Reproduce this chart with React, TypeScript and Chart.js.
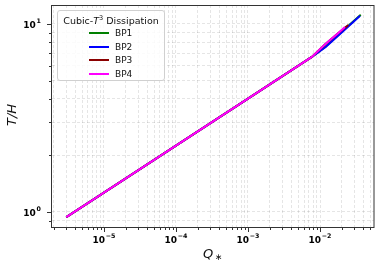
import React, { useEffect, useRef } from "react";
import { Chart, registerables } from "chart.js";
Chart.register(...registerables);

const seriesLabels = ["BP1", "BP2", "BP3", "BP4"];
const seriesColors = ["#008000", "#0000ff", "#8b0000", "#ff00ff"];

const bp1Q = [3.0e-6, 1e-5, 1e-4, 1e-3, 7.7e-3, 0.012, 0.02, 0.0368];
const bp1T = [0.94, 1.267, 2.253, 4.006, 6.68, 7.6, 9.1, 11.2];
const bp2Q = [3.0e-6, 1e-5, 1e-4, 1e-3, 7.7e-3, 0.012, 0.02, 0.036];
const bp2T = [0.94, 1.267, 2.253, 4.006, 6.68, 7.55, 9.0, 11.07];
const bp3Q = [3.0e-6, 1e-5, 1e-4, 1e-3, 7.7e-3, 0.012, 0.018, 0.0247];
const bp3T = [0.94, 1.267, 2.253, 4.006, 6.68, 7.85, 8.95, 9.88];
const bp4Q = [3.0e-6, 1e-5, 1e-4, 1e-3, 7.7e-3, 0.012, 0.018, 0.0222];
const bp4T = [0.94, 1.267, 2.253, 4.006, 6.68, 7.85, 8.95, 9.64];

const xMin = 1.9e-6;
const xMax = 0.0562;
const yMin = 0.832;
const yMax = 12.62;
const xDecades = [-6, -5, -4, -3, -2, -1];
const yDecades = [-1, 0, 1];

const FONT = "'DejaVu Sans', sans-serif";

function logTicks(decades: number[], min: number, max: number) {
  const out: { value: number }[] = [];
  decades.forEach((e) => {
    for (let m = 1; m <= 9; m++) {
      const v = m * Math.pow(10, e);
      if (v >= min * 0.9999 && v <= max * 1.0001) out.push({ value: v });
    }
  });
  return out;
}
function isMajor(v: number) {
  const l = Math.log10(v);
  return Math.abs(l - Math.round(l)) < 1e-6;
}
function expText(v: number) {
  const e = Math.round(Math.log10(v));
  return (e < 0 ? "\u2212" : "") + String(Math.abs(e));
}

const BASE_FONT = "bold 9px " + FONT;
const EXP_FONT = "bold 6.3px " + FONT;

function drawPow(ctx: CanvasRenderingContext2D, v: number, x: number, baseline: number, align: "center" | "right") {
  ctx.font = BASE_FONT;
  const w1 = ctx.measureText("10").width;
  const ex = expText(v);
  ctx.font = EXP_FONT;
  const w2 = ctx.measureText(ex).width + 0.8;
  const total = w1 + w2;
  const left = align === "center" ? x - total / 2 : x - total;
  ctx.textAlign = "left";
  ctx.textBaseline = "alphabetic";
  ctx.font = BASE_FONT;
  ctx.fillText("10", left, baseline);
  ctx.font = EXP_FONT;
  ctx.fillText(ex, left + w1 + 0.8, baseline - 4.3);
}

const framePlugin = {
  id: "frame",
  afterDraw(chart: any) {
    const { ctx, chartArea: a, scales } = chart;
    ctx.save();
    ctx.strokeStyle = "#333";
    ctx.fillStyle = "#000";
    ctx.lineWidth = 1;
    ctx.strokeRect(a.left - 0.5, a.top + 0.5, a.right - a.left + 0.5, a.bottom - a.top);
    const xs = scales.x;
    xs.ticks.forEach((t: any) => {
      const raw = xs.getPixelForValue(t.value);
      const p = Math.round(raw) + 0.5;
      if (p < a.left - 1 || p > a.right + 1) return;
      const major = isMajor(t.value);
      const len = major ? 4.5 : 2.5;
      ctx.beginPath();
      ctx.moveTo(p, a.bottom + 0.5);
      ctx.lineTo(p, a.bottom + 0.5 + len);
      ctx.stroke();
      if (major) drawPow(ctx, t.value, raw, a.bottom + 15.5, "center");
    });
    const ys = scales.y;
    ys.ticks.forEach((t: any) => {
      const raw = ys.getPixelForValue(t.value);
      const p = Math.round(raw) + 0.5;
      if (p < a.top - 1 || p > a.bottom + 1) return;
      const major = isMajor(t.value);
      const len = major ? 4.5 : 2.5;
      ctx.beginPath();
      ctx.moveTo(a.left - 0.5, p);
      ctx.lineTo(a.left - 0.5 - len, p);
      ctx.stroke();
      if (major) drawPow(ctx, t.value, a.left - 11, raw + 3.8, "right");
    });
    // axis titles
    ctx.fillStyle = "#111";
    ctx.textBaseline = "middle";
    ctx.textAlign = "center";
    ctx.font = "italic 13px " + FONT;
    ctx.save();
    ctx.translate(13, 115);
    ctx.rotate(-Math.PI / 2);
    ctx.fillText("T/H", 0, 0);
    ctx.restore();
    ctx.textAlign = "left";
    ctx.textBaseline = "alphabetic";
    ctx.fillText("Q", 203, 258);
    ctx.font = "9px " + FONT;
    ctx.fillText("\u2217", 215, 260);
    ctx.restore();
  },
};

export default function App() {
  const ref = useRef<HTMLCanvasElement>(null);
  useEffect(() => {
    document.body.style.margin = "0";
    const qs = [bp1Q, bp2Q, bp3Q, bp4Q];
    const ts = [bp1T, bp2T, bp3T, bp4T];
    const chart = new Chart(ref.current!, {
      type: "line",
      data: {
        datasets: seriesLabels.map((label, i) => ({
          label,
          data: qs[i].map((q, j) => ({ x: q, y: ts[i][j] })),
          borderColor: seriesColors[i],
          backgroundColor: seriesColors[i],
          borderWidth: 2,
          pointRadius: 0,
          tension: 0,
          fill: false,
          order: seriesLabels.length - i,
        })),
      },
      options: {
        animation: false,
        responsive: false,
        maintainAspectRatio: false,
        layout: { padding: { left: 0, top: 5, right: 6, bottom: 0 } },
        plugins: { legend: { display: false }, tooltip: { enabled: false } },
        scales: {
          x: {
            type: "logarithmic",
            min: xMin,
            max: xMax,
            afterBuildTicks: (s: any) => {
              s.ticks = logTicks(xDecades, xMin, xMax);
            },
            afterFit: (s: any) => {
              s.height = 42;
            },
            ticks: { display: false, autoSkip: false },
            grid: { color: "rgba(0,0,0,0.13)", lineWidth: 0.8, drawTicks: false },
            border: { display: false, dash: [3, 2] },
          },
          y: {
            type: "logarithmic",
            min: yMin,
            max: yMax,
            afterBuildTicks: (s: any) => {
              s.ticks = logTicks(yDecades, yMin, yMax);
            },
            afterFit: (s: any) => {
              s.width = 52;
            },
            ticks: { display: false, autoSkip: false },
            grid: { color: "rgba(0,0,0,0.13)", lineWidth: 0.8, drawTicks: false },
            border: { display: false, dash: [3, 2] },
          },
        },
      } as any,
      plugins: [framePlugin],
    });
    return () => chart.destroy();
  }, []);

  return (
    <div style={{ position: "relative", width: 380, height: 269, background: "#fff" }}>
      <canvas ref={ref} width={380} height={269} style={{ position: "absolute", left: 0, top: 0 }} />
      <div
        style={{
          position: "absolute",
          left: 57,
          top: 10,
          width: 108,
          height: 71,
          border: "1px solid #d0d0d0",
          borderRadius: 3,
          background: "rgba(255,255,255,0.85)",
          fontFamily: FONT,
          fontSize: 9,
          color: "#111",
          boxSizing: "border-box",
        }}
      >
        <div style={{ position: "absolute", left: 0, right: 0, top: 3, textAlign: "center", whiteSpace: "nowrap", lineHeight: "13px", fontSize: 9.5 }}>
          Cubic-<i>T</i>
          <sup style={{ fontSize: 6.5, verticalAlign: "4px", lineHeight: 0 }}>3</sup> Dissipation
        </div>
        {seriesLabels.map((l, i) => (
          <div key={l} style={{ position: "absolute", left: 31, top: 22 + i * 13.7 - 6, height: 12, display: "flex", alignItems: "center" }}>
            <span style={{ display: "inline-block", width: 20, height: 2, background: seriesColors[i] }} />
            <span style={{ marginLeft: 6, lineHeight: "12px" }}>{l}</span>
          </div>
        ))}
      </div>
    </div>
  );
}
